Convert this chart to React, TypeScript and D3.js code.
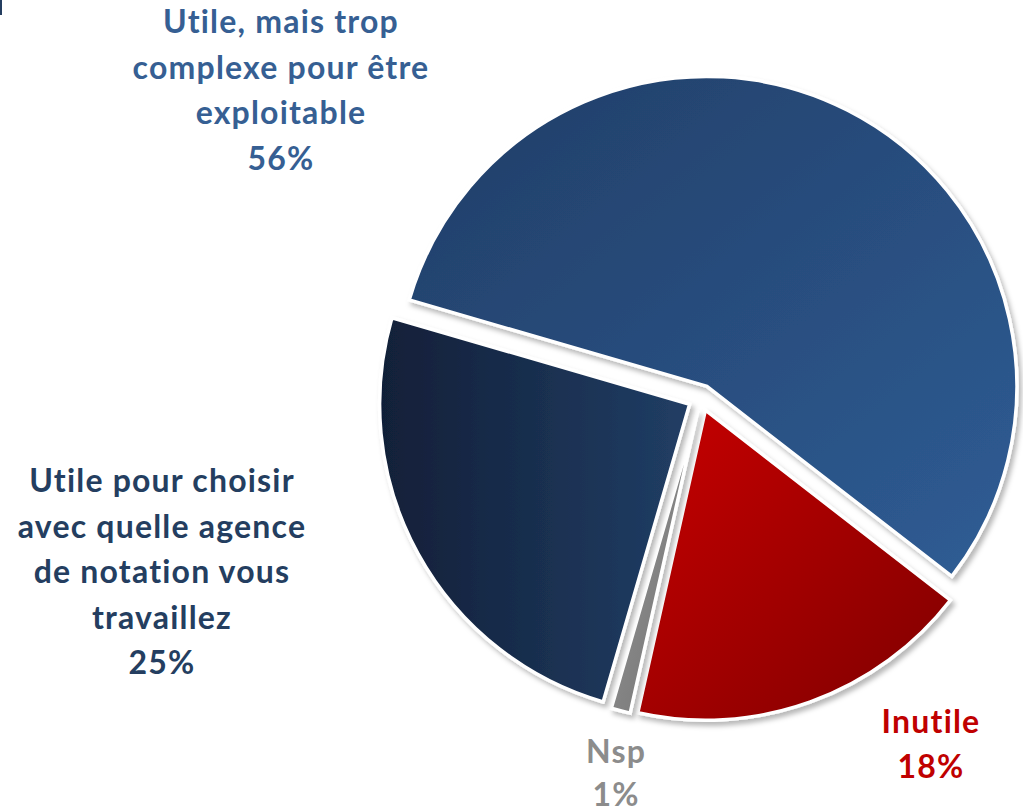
import React from "react";
import * as d3 from "d3";

const categories = [
  "Utile, mais trop complexe pour être exploitable",
  "Inutile",
  "Nsp",
  "Utile pour choisir avec quelle agence de notation vous travaillez",
];
const values = [56, 18, 1, 25];
const labelLines = [
  ["Utile, mais trop", "complexe pour être", "exploitable", "56%"],
  ["Inutile", "18%"],
  ["Nsp", "1%"],
  ["Utile pour choisir", "avec quelle agence", "de notation vous", "travaillez", "25%"],
];

const W = 1023;
const H = 812;
const cx = 701;
const cy = 398;
const R = 310;
const explode = 13;

const gradStops = [
  ["#213d66", "#2f5d95"],
  ["#c80000", "#7e0000"],
  ["#9a9a9a", "#6e6e6e"],
  ["#111f38", "#213e65"],
];
const gradDir = [
  { x1: 0, y1: 0, x2: 1, y2: 1 },
  { x1: 0, y1: 0, x2: 1, y2: 1 },
  { x1: 0, y1: 0, x2: 1, y2: 1 },
  { x1: 0, y1: 0, x2: 1, y2: 0 },
];
const textColors = ["#365f93", "#c00000", "#8c8c8c", "#243e60"];
const labelPos = [
  { x: 281, y: 33 },
  { x: 931, y: 733 },
  { x: 616, y: 763 },
  { x: 162, y: 492 },
];
const lineGaps = [45.5, 45, 43, 45.5];

export default function App() {
  const pie = d3
    .pie<number>()
    .sort(null)
    .startAngle((-73.8 * Math.PI) / 180)
    .endAngle(((360 - 73.8) * Math.PI) / 180);
  const arcs = pie(values);
  const arc = d3.arc<d3.PieArcDatum<number>>().innerRadius(0).outerRadius(R);

  return (
    <svg
      width={W}
      height={H}
      style={{ position: "absolute", left: 0, top: 0, background: "#fff" }}
      fontFamily="Lato, 'Open Sans', sans-serif"
    >
      <defs>
        <filter id="sh" x="-20%" y="-20%" width="140%" height="140%">
          <feDropShadow dx="3" dy="4" stdDeviation="2.5" floodColor="#000" floodOpacity="0.28" />
        </filter>
        {gradStops.map((s, i) => (
          <linearGradient key={i} id={`g${i}`} {...gradDir[i]}>
            <stop offset="0%" stopColor={s[0]} />
            <stop offset="100%" stopColor={s[1]} />
          </linearGradient>
        ))}
      </defs>
      <rect x={0} y={0} width={2} height={15} fill="#243e60" />
      <g transform={`translate(${cx},${cy})`}>
        {arcs.map((a, i) => {
          const mid = (a.startAngle + a.endAngle) / 2;
          const dx = Math.sin(mid) * explode;
          const dy = -Math.cos(mid) * explode;
          return (
            <path
              key={categories[i]}
              d={arc(a) || ""}
              transform={`translate(${dx},${dy})`}
              fill={`url(#g${i})`}
              stroke="#fff"
              strokeWidth={3.5}
              strokeLinejoin="miter"
              filter="url(#sh)"
            />
          );
        })}
      </g>
      {labelLines.map((lines, i) => (
        <text
          key={i}
          x={labelPos[i].x}
          y={labelPos[i].y}
          textAnchor="middle"
          fontWeight="bold"
          fontSize={32}
          letterSpacing={1.2}
          fill={textColors[i]}
        >
          {lines.map((l, j) => (
            <tspan key={j} x={labelPos[i].x} y={labelPos[i].y + j * lineGaps[i]}>
              {l}
            </tspan>
          ))}
        </text>
      ))}
    </svg>
  );
}
